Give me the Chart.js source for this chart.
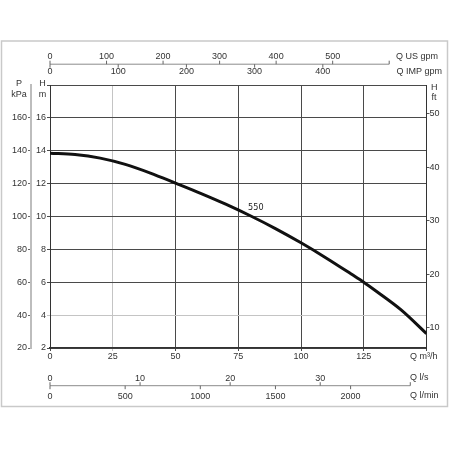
<!DOCTYPE html>
<html>
<head>
<meta charset="utf-8">
<script src="https://cdn.jsdelivr.net/npm/chart.js@4.4.1/dist/chart.umd.min.js"></script>
<style>
html,body{margin:0;padding:0;background:#fff;}
canvas{display:block;}
</style>
</head>
<body>
<canvas id="c" width="450" height="450"></canvas>
<script>
// ---- data ----
const flowQ   = [0, 10, 20, 30, 40, 50, 60, 70, 80, 90, 100, 110, 120, 125, 130, 140, 150];   // m³/h
const head550 = [13.85, 13.77, 13.55, 13.17, 12.64, 12.03, 11.41, 10.75, 10.03, 9.25, 8.4, 7.48, 6.5, 6.0, 5.45, 4.3, 2.87]; // m
const curveName = '550';

// ---- tick values / labels ----
const qTicks      = [0, 25, 50, 75, 100, 125, 150];
const qLabels     = ['0', '25', '50', '75', '100', '125', ''];
const hTicks      = [2, 4, 6, 8, 10, 12, 14, 16, 18];
const hLabels     = ['2', '4', '6', '8', '10', '12', '14', '16', ''];
const pTicks      = [20, 40, 60, 80, 100, 120, 140, 160];
const ftTicks     = [10, 20, 30, 40, 50];
const usGpmTicks  = [0, 100, 200, 300, 400, 500, 600];
const usGpmLabels = ['0', '100', '200', '300', '400', '500', ''];
const impGpmTicks = [0, 100, 200, 300, 400];
const lsTicks     = [0, 10, 20, 30, 40];
const lsLabels    = ['0', '10', '20', '30', ''];
const lminTicks   = [0, 500, 1000, 1500, 2000];

const FONT = "'Liberation Sans', Arial, Helvetica, sans-serif";
const TXT = '#333';
const GRID = '#4a4a4a';
const GRID_LIGHT = '#c4c4c4';

function setTicks(arr) {
  return function (scale) { scale.ticks = arr.map(v => ({ value: v })); };
}

const frameAndUnits = {
  id: 'frameAndUnits',
  beforeDraw(chart) {
    const ctx = chart.ctx;
    ctx.save();
    ctx.fillStyle = '#fff';
    ctx.fillRect(0, 0, chart.width, chart.height);
    ctx.strokeStyle = '#c9c9c9';
    ctx.lineWidth = 1.5;
    ctx.strokeRect(1.5, 41, 446, 365.5);
    ctx.restore();
  },
  afterDraw(chart) {
    const ctx = chart.ctx;
    const s = chart.scales;
    const area = chart.chartArea;
    ctx.save();
    ctx.font = '9px ' + FONT;
    ctx.fillStyle = TXT;

    function hline(x0, y, x1) { ctx.beginPath(); ctx.moveTo(x0, y); ctx.lineTo(x1, y); ctx.stroke(); }
    function vline(x, y0, y1) { ctx.beginPath(); ctx.moveTo(x, y0); ctx.lineTo(x, y1); ctx.stroke(); }

    function unitAxis(upper, upTicks, upLabels, lower, lowTicks, lowLabels, lineY, upOff, lowOff) {
      const x0 = upper.getPixelForValue(upTicks[0]);
      const x1 = upper.getPixelForValue(upTicks[upTicks.length - 1]);
      ctx.strokeStyle = '#8c8c8c';
      ctx.lineWidth = 1;
      hline(x0, lineY, x1);
      ctx.strokeStyle = '#666';
      ctx.textAlign = 'center';
      ctx.textBaseline = 'middle';
      upTicks.forEach((v, i) => {
        const px = upper.getPixelForValue(v);
        vline(px, lineY - 3.5, lineY);
        if (upLabels[i]) ctx.fillText(upLabels[i], px, lineY + upOff);
      });
      lowTicks.forEach((v, i) => {
        const px = lower.getPixelForValue(v);
        vline(px, lineY, lineY + 3.5);
        if (lowLabels[i]) ctx.fillText(lowLabels[i], px, lineY + lowOff);
      });
    }

    // top: US gpm above, IMP gpm below
    unitAxis(s.us, usGpmTicks, usGpmLabels, s.imp, impGpmTicks, impGpmTicks.map(String),
             area.top - 20.8, -7.4, 7.6);
    // bottom: l/s above, l/min below
    unitAxis(s.ls, lsTicks, lsLabels, s.lmin, lminTicks, lminTicks.map(String),
             area.bottom + 37.7, -7.4, 10.5);

    // unit titles
    ctx.textAlign = 'left';
    ctx.textBaseline = 'middle';
    ctx.fillText('Q US gpm', 396, 57);
    ctx.fillText('Q IMP gpm', 396.5, 72);
    ctx.fillText('Q m³/h', 410, 357);
    ctx.fillText('Q l/s', 410, 378);
    ctx.fillText('Q l/min', 410, 396);
    ctx.textAlign = 'center';
    ctx.fillText('P', 19, 83.5);
    ctx.fillText('kPa', 19, 94.5);
    ctx.fillText('H', 42.5, 83.5);
    ctx.fillText('m', 42.5, 94.5);
    ctx.textAlign = 'left';
    ctx.fillText('H', 431, 87.5);
    ctx.fillText('ft', 431.5, 97.5);

    // curve name
    ctx.font = "9px 'Liberation Sans Narrow', 'DejaVu Sans Condensed', " + FONT;
    ctx.textAlign = 'center';
    ctx.fillStyle = '#222';
    ctx.fillText(curveName, s.x.getPixelForValue(82), s.y.getPixelForValue(10.55));
    ctx.restore();
  }
};

new Chart(document.getElementById('c'), {
  type: 'line',
  data: {
    datasets: [{
      label: curveName,
      data: flowQ.map((q, i) => ({ x: q, y: head550[i] })),
      borderColor: '#111',
      borderWidth: 3,
      pointRadius: 0,
      fill: false,
      cubicInterpolationMode: 'monotone',
      xAxisID: 'x',
      yAxisID: 'y'
    }]
  },
  options: {
    responsive: false,
    animation: false,
    events: [],
    layout: { padding: { top: 85, bottom: 82, left: 0, right: 0 } },
    plugins: { legend: { display: false }, tooltip: { enabled: false } },
    scales: {
      x: {
        type: 'linear', position: 'bottom', min: 0, max: 150,
        afterBuildTicks: setTicks(qTicks),
        afterFit: sc => { sc.height = 20; },
        grid: {
          color: c => (c.tick && c.tick.value === 25) ? GRID_LIGHT : GRID,
          lineWidth: 1, tickLength: 3
        },
        border: { color: '#333', width: 1.5 },
        ticks: {
          autoSkip: false, maxRotation: 0, padding: 0,
          font: { family: FONT, size: 9 }, color: TXT,
          callback: (v, i) => qLabels[i]
        }
      },
      y: {
        type: 'linear', position: 'left', min: 2, max: 18, weight: 0,
        afterBuildTicks: setTicks(hTicks),
        afterFit: sc => { sc.width = 19; },
        grid: {
          color: c => (c.tick && c.tick.value === 4) ? GRID_LIGHT : GRID,
          lineWidth: 1, tickLength: 3
        },
        border: { color: '#333', width: 1 },
        ticks: {
          autoSkip: false, padding: 1,
          font: { family: FONT, size: 9 }, color: TXT,
          callback: (v, i) => hLabels[i]
        }
      },
      yP: {
        type: 'linear', position: 'left', min: 20, max: 180, weight: 1,
        afterBuildTicks: setTicks(pTicks),
        afterFit: sc => { sc.width = 31; },
        grid: { drawOnChartArea: false, color: '#666', tickLength: 3 },
        border: { color: '#bdbdbd', width: 2 },
        ticks: {
          autoSkip: false, padding: 1,
          font: { family: FONT, size: 9 }, color: TXT
        }
      },
      yFt: {
        type: 'linear', position: 'right', min: 6.2, max: 55.4,
        afterBuildTicks: setTicks(ftTicks),
        afterFit: sc => { sc.width = 23.5; },
        grid: { drawOnChartArea: false, color: '#555', tickLength: 3 },
        border: { color: '#333', width: 1 },
        ticks: {
          autoSkip: false, padding: 0,
          font: { family: FONT, size: 9 }, color: TXT
        }
      },
      us:   { type: 'linear', position: 'top', display: false, min: 0, max: 666 },
      imp:  { type: 'linear', position: 'top', display: false, min: 0, max: 552 },
      ls:   { type: 'linear', position: 'bottom', display: false, min: 0, max: 41.8 },
      lmin: { type: 'linear', position: 'bottom', display: false, min: 0, max: 2505 }
    }
  },
  plugins: [frameAndUnits]
});
</script>
</body>
</html>
